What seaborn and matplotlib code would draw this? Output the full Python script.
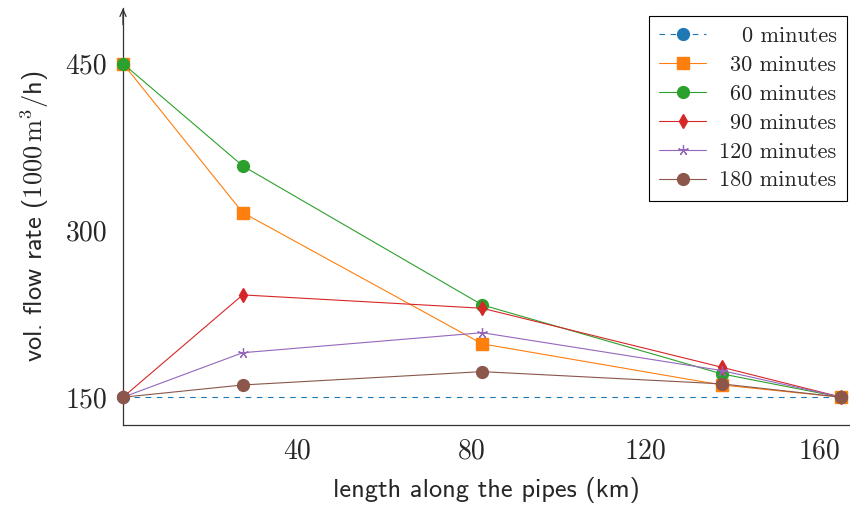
import numpy as np
import pandas as pd
import matplotlib
matplotlib.use("Agg")
import matplotlib.pyplot as plt
import seaborn as sns
from matplotlib.font_manager import FontProperties

# ---- data ----
length_km = [0, 27.5, 82.5, 137.5, 165]
length_km_0 = [0, 165]          # the 0-minute line only shows its end points
flow_0 = [150, 150]
flow_30 = [450, 316, 198, 161, 150]
flow_60 = [450, 358, 233, 171, 150]
flow_90 = [150, 242, 230, 177, 150]
flow_120 = [150, 190, 208, 174, 150]
flow_180 = [150, 161, 173, 162, 150]
series_labels = ["0 minutes", "30 minutes", "60 minutes", "90 minutes", "120 minutes", "180 minutes"]
x_ticks = [40, 80, 120, 160]
y_ticks = [150, 300, 450]

series_x = [length_km_0, length_km, length_km, length_km, length_km, length_km]
series_values = [flow_0, flow_30, flow_60, flow_90, flow_120, flow_180]

sns.set_style("white")
plt.rcParams["mathtext.fontset"] = "cm"
plt.rcParams["font.family"] = ["cmr10", "DejaVu Serif"]
plt.rcParams["axes.formatter.use_mathtext"] = True

colors = ["#1f77b4", "#ff7f0e", "#2ca02c", "#d62728", "#9467bd", "#8c564b"]
markers = ["o", "s", "o", "d", (5, 2, 0), "o"]
msizes = [8.5, 8.5, 8.5, 7, 7.5, 8.5]

fig = plt.figure(figsize=(8.5, 5.13), dpi=100)
W, H = 850, 513
ax_left, ax_right, ax_top, ax_bottom = 123, 850, 8, 425
ax = fig.add_axes([ax_left / W, 1 - ax_bottom / H, (ax_right - ax_left) / W, (ax_bottom - ax_top) / H])

for xs, vals, lab, c, m, ms in zip(series_x, series_values, series_labels, colors, markers, msizes):
    df = pd.DataFrame({"length": xs, "flow": vals})
    ls = (0, (5, 5)) if lab == "0 minutes" else "-"
    sns.lineplot(data=df, x="length", y="flow", ax=ax, color=c, marker=m,
                 markersize=ms, linewidth=0.8, linestyle=ls, label=lab,
                 markeredgewidth=1.0 if m != (5, 2, 0) else 0.9,
                 markeredgecolor=c, clip_on=False, zorder=3)

ax.set_xlim(0, 167)
ax.set_ylim(125, 500)
ax.set_xticks(x_ticks)
ax.set_yticks(y_ticks)
tick_font = FontProperties(family="cmr10", size=20)
ax.set_xticklabels([str(t) for t in x_ticks], fontproperties=tick_font)
ax.set_yticklabels([str(t) for t in y_ticks], fontproperties=tick_font)
ax.tick_params(axis="both", direction="inout", length=7, width=0.6, color="#808080")
ax.tick_params(axis="y", pad=8)
ax.tick_params(axis="x", pad=6)

for s in ["top", "right"]:
    ax.spines[s].set_visible(False)
for s in ["left", "bottom"]:
    ax.spines[s].set_color("#333333")
    ax.spines[s].set_linewidth(0.9)

ax.annotate("", xy=(0, 1.0), xycoords="axes fraction", xytext=(0, 0.96),
            arrowprops=dict(arrowstyle="->,head_length=0.5,head_width=0.22",
                            color="#333333", lw=0.9, shrinkA=0, shrinkB=0))

label_font = FontProperties(family="cmss10", size=19)
ax.set_xlabel("length along the pipes (km)", fontproperties=label_font, labelpad=9)
ax.set_ylabel(r"vol. flow rate ($1000\,\mathrm{m}^3$/h)", fontproperties=label_font, labelpad=10)

handles, labels = ax.get_legend_handles_labels()
if ax.get_legend() is not None:
    ax.get_legend().remove()
leg = fig.legend(handles, labels, loc="upper right",
                 bbox_to_anchor=(847 / W, 1 - 16 / H), bbox_transform=fig.transFigure,
                 frameon=True, fancybox=False, edgecolor="black", framealpha=1,
                 prop=FontProperties(family="cmr10", size=16),
                 handlelength=2.1, labelspacing=0.42, borderpad=0.47,
                 handletextpad=0.6, borderaxespad=0, numpoints=1)
leg.get_frame().set_linewidth(0.8)

# right-align the legend texts
fig.canvas.draw()
renderer = fig.canvas.get_renderer()
widths = [t.get_window_extent(renderer).width for t in leg.get_texts()]
wmax = max(widths)
for t, w in zip(leg.get_texts(), widths):
    t.set_position((wmax - w, 0))

fig.savefig("out.png", dpi=100)
